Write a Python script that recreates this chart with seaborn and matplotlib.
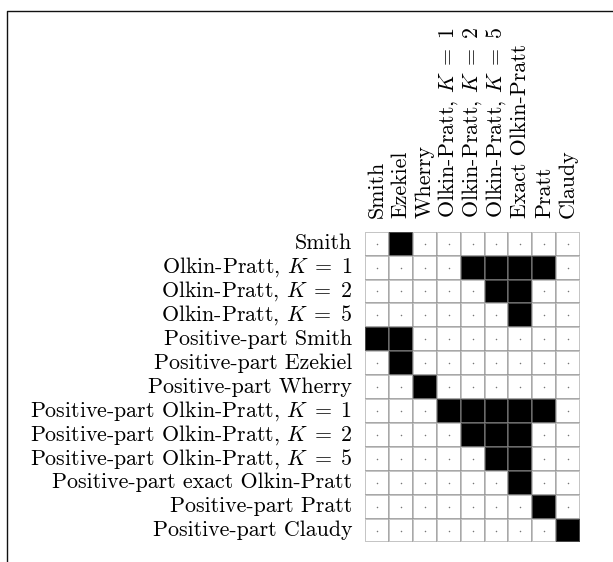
import matplotlib
matplotlib.use('Agg')
import matplotlib.pyplot as plt
import numpy as np
import pandas as pd
import seaborn as sns
from matplotlib.lines import Line2D

sns.set_theme(style='white')
plt.rcParams['font.family'] = ['cmr10', 'DejaVu Serif']
plt.rcParams['mathtext.fontset'] = 'cm'
plt.rcParams['axes.formatter.use_mathtext'] = True

col_labels = ['Smith', 'Ezekiel', 'Wherry',
              r'Olkin-Pratt, $K\;=\;1$', r'Olkin-Pratt, $K\;=\;2$', r'Olkin-Pratt, $K\;=\;5$',
              'Exact Olkin-Pratt', 'Pratt', 'Claudy']
row_labels = ['Smith', r'Olkin-Pratt, $K\;=\;1$', r'Olkin-Pratt, $K\;=\;2$',
              r'Olkin-Pratt, $K\;=\;5$', 'Positive-part Smith', 'Positive-part Ezekiel',
              'Positive-part Wherry', r'Positive-part Olkin-Pratt, $K\;=\;1$',
              r'Positive-part Olkin-Pratt, $K\;=\;2$', r'Positive-part Olkin-Pratt, $K\;=\;5$',
              'Positive-part exact Olkin-Pratt', 'Positive-part Pratt',
              'Positive-part Claudy']

# 1 = dominated by the column estimator
dominance = [
    [0, 1, 0, 0, 0, 0, 0, 0, 0],
    [0, 0, 0, 0, 1, 1, 1, 1, 0],
    [0, 0, 0, 0, 0, 1, 1, 0, 0],
    [0, 0, 0, 0, 0, 0, 1, 0, 0],
    [1, 1, 0, 0, 0, 0, 0, 0, 0],
    [0, 1, 0, 0, 0, 0, 0, 0, 0],
    [0, 0, 1, 0, 0, 0, 0, 0, 0],
    [0, 0, 0, 1, 1, 1, 1, 1, 0],
    [0, 0, 0, 0, 1, 1, 1, 0, 0],
    [0, 0, 0, 0, 0, 1, 1, 0, 0],
    [0, 0, 0, 0, 0, 0, 1, 0, 0],
    [0, 0, 0, 0, 0, 0, 0, 1, 0],
    [0, 0, 0, 0, 0, 0, 0, 0, 1],
]

df = pd.DataFrame(dominance, index=row_labels, columns=col_labels)

fig = plt.figure(figsize=(6.13, 5.62), dpi=100)
ax = fig.add_axes([0.595, 0.0347, 0.3517, 0.553])

sns.heatmap(df, ax=ax, cmap=['white', 'black'], vmin=0, vmax=1, cbar=False,
            linewidths=1.2, linecolor=(0.55, 0.55, 0.55, 0.5))

# small dots in the empty cells
yy, xx = np.where(df.values == 0)
ax.scatter(xx + 0.5, yy + 0.5, s=1.2, color='#777777', linewidths=0, zorder=3)

ax.xaxis.tick_top()
ax.set_xticklabels(col_labels, rotation=90, fontsize=15.8)
ax.set_yticklabels(row_labels, rotation=0, fontsize=15.8)
ax.tick_params(axis='both', length=0, colors='black')
ax.tick_params(axis='x', pad=10)
ax.tick_params(axis='y', pad=9)
ax.set_xlabel('')
ax.set_ylabel('')

# partial frame around the figure
y_top = 1 - 11 / 562
x_left = 7.3 / 613
fig.add_artist(Line2D([x_left, x_left, 1.0], [0.0, y_top, y_top],
                      transform=fig.transFigure, color='#111111', lw=1.0))

fig.savefig('out.png', dpi=100)
